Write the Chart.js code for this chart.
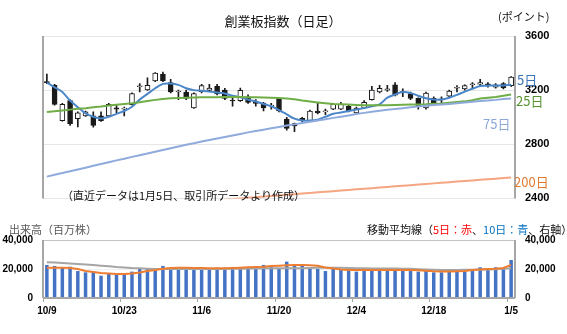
<!DOCTYPE html>
<html lang="ja">
<head>
<meta charset="utf-8">
<script src="https://cdn.jsdelivr.net/npm/chart.js@4.4.1/dist/chart.umd.min.js"></script>
<style>
  html, body { margin: 0; padding: 0; background: #fff; }
  #wrap { position: relative; width: 567px; height: 334px; overflow: hidden; }
  canvas { position: absolute; left: 0; }
  .t { position: absolute; white-space: nowrap; line-height: 1; font-family: "Noto Sans CJK JP", sans-serif; color: #111; }
</style>
</head>
<body>
<div id="wrap">
  <canvas id="price" width="567" height="215" style="top:0"></canvas>
  <canvas id="vol" width="567" height="119" style="top:215px"></canvas>

  <div class="t" style="left:283px; top:14px; font-size:13px; transform:translateX(-50%)">創業板指数（日足）</div>
  <div class="t" style="left:498px; top:11px; font-size:11px">(ポイント)</div>
  <div class="t" style="left:517px; top:73px; font-size:13px; color:#3a74b6">5日</div>
  <div class="t" style="left:516px; top:94px; font-size:13px; color:#569232">25日</div>
  <div class="t" style="left:483px; top:117px; font-size:13px; color:#8ca7d8">75日</div>
  <div class="t" style="left:514px; top:175px; font-size:13px; color:#df7a35">200日</div>
  <div class="t" style="left:62px; top:190px; font-size:11px">（直近データは1月5日、取引所データより作成）</div>
  <div class="t" style="left:9px; top:224px; font-size:11px; color:#595959">出来高（百万株）</div>
  <div class="t" style="left:367px; top:224px; font-size:11px">移動平均線（<span style="color:#ff0000">5日：赤</span>、<span style="color:#0070c0">10日：青</span>、右軸）</div>
</div>
<script>
// trading days shown on the axis (every 10th label is printed)
const dates = [
  '10/9', '10/12', '10/13', '10/14', '10/15', '10/16', '10/19', '10/20', '10/21', '10/22',
  '10/23', '10/26', '10/27', '10/28', '10/29', '10/30', '11/2', '11/3', '11/4', '11/5',
  '11/6', '11/9', '11/10', '11/11', '11/12', '11/13', '11/16', '11/17', '11/18', '11/19',
  '11/20', '11/23', '11/24', '11/25', '11/26', '11/27', '11/30', '12/1', '12/2', '12/3',
  '12/4', '12/7', '12/8', '12/9', '12/10', '12/11', '12/14', '12/15', '12/16', '12/17',
  '12/18', '12/21', '12/22', '12/23', '12/24', '12/25', '12/28', '12/29', '12/30', '1/4',
  '1/5'
];

// daily candles (points)
const openP = [3262, 3235, 2975, 3123, 2990, 3010, 3010, 3010, 3010, 3070,
  3060, 3092, 3225, 3202, 3268, 3319, 3256, 3186, 3186, 3069,
  3186, 3198, 3228, 3200, 3125, 3123, 3151, 3105, 3102, 3081,
  3139, 2987, 2952, 2992, 2975, 3046, 3039, 3060, 3060, 3081,
  3032, 3067, 3130, 3186, 3200, 3240, 3190, 3174, 3139, 3069,
  3139, 3135, 3156, 3214, 3209, 3240, 3244, 3242, 3221, 3249, 3233];
const highP = [3319, 3242, 3102, 3130, 3039, 3045, 3039, 3039, 3102, 3095,
  3074, 3180, 3249, 3291, 3330, 3333, 3280, 3200, 3200, 3180,
  3242, 3242, 3242, 3214, 3139, 3216, 3165, 3130, 3109, 3102,
  3144, 2999, 2957, 2999, 3053, 3102, 3060, 3102, 3109, 3088,
  3074, 3123, 3228, 3235, 3235, 3256, 3210, 3186, 3144, 3186,
  3151, 3151, 3200, 3233, 3240, 3256, 3280, 3256, 3249, 3256, 3300];
const lowP = [3248, 3088, 2970, 2940, 2928, 3005, 2926, 2968, 3008, 3032,
  3010, 3090, 3186, 3198, 3262, 3262, 3180, 3130, 3130, 3065,
  3180, 3195, 3165, 3130, 3081, 3116, 3102, 3081, 3046, 3060,
  3039, 2905, 2893, 2964, 2970, 3025, 3018, 3055, 3055, 3039,
  3025, 3063, 3125, 3179, 3190, 3158, 3151, 3130, 3060, 3060,
  3090, 3100, 3151, 3186, 3200, 3209, 3233, 3221, 3214, 3209, 3228];
const closeP = [3255, 3095, 3095, 2952, 3032, 3040, 2940, 2975, 3095, 3060,
  3067, 3174, 3232, 3235, 3326, 3268, 3186, 3190, 3139, 3174,
  3233, 3216, 3172, 3139, 3120, 3198, 3109, 3102, 3069, 3090,
  3046, 2917, 2935, 2975, 3046, 3032, 3046, 3095, 3095, 3046,
  3067, 3109, 3200, 3214, 3210, 3163, 3182, 3139, 3081, 3179,
  3100, 3128, 3193, 3221, 3233, 3244, 3256, 3240, 3240, 3216, 3296];

// moving averages
const ma5 = [3256, 3221, 3186, 3123, 3074, 3028, 3003, 2991, 3003, 3025,
  3046, 3077, 3130, 3172, 3214, 3246, 3249, 3239, 3214, 3200,
  3196, 3189, 3182, 3175, 3158, 3147, 3130, 3116, 3098, 3081,
  3053, 3021, 2989, 2975, 2975, 2982, 3003, 3025, 3035, 3046,
  3056, 3067, 3081, 3095, 3144, 3168, 3186, 3179, 3158, 3140,
  3130, 3130, 3144, 3165, 3189, 3210, 3231, 3233, 3235, 3235, 3239];
const ma25 = [3038, 3044, 3050, 3056, 3062, 3067, 3074, 3079, 3086, 3092,
  3098, 3103, 3110, 3119, 3128, 3135, 3140, 3141, 3143, 3145,
  3147, 3147, 3148, 3149, 3149, 3149, 3148, 3147, 3146, 3144,
  3142, 3138, 3132, 3123, 3116, 3109, 3103, 3098, 3095, 3093,
  3091, 3089, 3088, 3088, 3089, 3090, 3092, 3093, 3094, 3096,
  3100, 3102, 3107, 3112, 3117, 3126, 3138, 3144, 3150, 3159, 3167];
const ma75 = [2561, 2575, 2587, 2601, 2614, 2627, 2641, 2654, 2667, 2681,
  2693, 2707, 2719, 2732, 2745, 2758, 2771, 2783, 2796, 2808,
  2820, 2832, 2843, 2854, 2865, 2876, 2888, 2898, 2908, 2918,
  2928, 2938, 2947, 2957, 2966, 2976, 2985, 2995, 3004, 3013,
  3023, 3032, 3041, 3048, 3055, 3060, 3067, 3073, 3079, 3085,
  3090, 3094, 3098, 3103, 3108, 3114, 3119, 3124, 3128, 3134, 3139];
const ma200 = [2290, 2294, 2299, 2303, 2308, 2312, 2316, 2321, 2325, 2330,
  2334, 2339, 2343, 2347, 2352, 2356, 2361, 2365, 2369, 2374,
  2378, 2383, 2387, 2392, 2396, 2400, 2405, 2409, 2414, 2418,
  2422, 2427, 2431, 2436, 2440, 2445, 2449, 2453, 2458, 2462,
  2467, 2471, 2475, 2480, 2484, 2489, 2493, 2498, 2502, 2506,
  2511, 2515, 2520, 2524, 2528, 2533, 2537, 2542, 2546, 2551, 2555];

// volume (million shares) and its moving averages
const volume = [22800, 22100, 21200, 21600, 18600, 17700, 18200, 15400, 17000, 16300,
  16300, 18200, 20500, 20000, 19300, 22100, 20500, 20000, 19300, 19300,
  20000, 19300, 20900, 20900, 20000, 20500, 20500, 21600, 22800, 21600,
  20000, 25100, 22100, 23200, 20500, 20000, 18600, 20500, 19300, 19300,
  18200, 19300, 20000, 20000, 19300, 20000, 20000, 18600, 18200, 18600,
  17700, 17700, 18200, 18200, 18200, 18600, 21200, 19300, 21200, 20500, 26200];
const volMa5 = [20900, 20900, 20900, 20700, 20000, 18600, 17900, 17300, 16900, 16600,
  16600, 16900, 17600, 18600, 19300, 20200, 20700, 20900, 20900, 20700,
  20700, 20500, 20500, 20500, 20700, 20900, 21200, 21400, 21600, 22100,
  22300, 22600, 22800, 22800, 22600, 22300, 21100, 20400, 19700, 19300,
  19300, 19300, 19300, 19300, 19300, 19300, 19300, 19300, 19100, 18800,
  18400, 18200, 18200, 18400, 18600, 19300, 19700, 20000, 20200, 20700, 22800];
const volMa10 = [24600, 24500, 24200, 23800, 23500, 23100, 22800, 22300, 21900, 21400,
  21100, 20700, 20500, 20200, 20000, 20000, 20000, 20000, 20000, 20000,
  20000, 20000, 20000, 20000, 20200, 20200, 20400, 20400, 20500, 20500,
  20500, 20500, 20500, 20600, 20700, 20800, 20900, 20900, 20900, 20700,
  20500, 20500, 20400, 20400, 20300, 20300, 20200, 20100, 19900, 19700,
  19500, 19300, 19300, 19300, 19400, 19500, 19600, 19700, 19900, 20100, 20500];

const priceTicks = [2400, 2800, 3200, 3600];
const volTicks = [0, 20000, 40000];

const NUM_FONT = '"Liberation Sans", Arial, sans-serif';
const FRAME = '#a6a6a6';

// draws the grey frame lines round the plot area
const frameLines = {
    id: 'frameLines',
    afterDraw(chart, args, opts) {
        const { ctx, chartArea: a } = chart;
        ctx.save();
        ctx.strokeStyle = opts.color;
        ctx.lineWidth = opts.width;
        ctx.beginPath();
        opts.sides.forEach((s) => {
            if (s === 'left') { ctx.moveTo(a.left, a.top); ctx.lineTo(a.left, a.bottom); }
            if (s === 'right') { ctx.moveTo(a.right, a.top); ctx.lineTo(a.right, a.bottom); }
            if (s === 'bottom') { ctx.moveTo(a.left, a.bottom); ctx.lineTo(a.right, a.bottom); }
        });
        ctx.stroke();
        ctx.restore();
    },
};

function maLine(label, data, color, order, tension) {
    return {
        type: 'line', label, data, order,
        borderColor: color, borderWidth: 2,
        pointRadius: 0, tension: tension || 0, fill: false,
    };
}

const upOrDown = (ctx) => (closeP[ctx.dataIndex] >= openP[ctx.dataIndex] ? '#ffffff' : '#1a1a1a');

new Chart(document.getElementById('price'), {
    type: 'bar',
    data: {
        labels: dates,
        datasets: [
            maLine('200日', ma200, '#f4a582', 0),
            maLine('75日', ma75, '#8faadc', 0),
            maLine('25日', ma25, '#70ad47', 0),
            maLine('5日', ma5, '#4a86c8', 0, 0.3),
            {
                label: 'body', order: 1, grouped: false,
                data: openP.map((o, i) => [o, closeP[i]]),
                backgroundColor: upOrDown, borderColor: '#1a1a1a', borderWidth: 1,
                borderSkipped: false, barThickness: 5, minBarLength: 1,
            },
            {
                label: 'wick', order: 2, grouped: false,
                data: lowP.map((l, i) => [l, highP[i]]),
                backgroundColor: '#1a1a1a', borderWidth: 0, barThickness: 1,
            },
        ],
    },
    options: {
        responsive: false,
        animation: false,
        layout: { padding: { left: 43, top: 36, right: 0, bottom: 8 } },
        plugins: {
            legend: { display: false },
            tooltip: { enabled: false },
            frameLines: { color: FRAME, width: 2, sides: ['left', 'right'] },
        },
        scales: {
            x: { display: false, offset: true },
            y: {
                position: 'right',
                min: priceTicks[0],
                max: priceTicks[priceTicks.length - 1],
                afterFit: (s) => { s.width = 52; },
                afterBuildTicks: (s) => { s.ticks = priceTicks.map((v) => ({ value: v })); },
                grid: { color: '#e6e6e6', drawTicks: false },
                border: { display: false },
                ticks: {
                    padding: 10, color: '#000',
                    font: { family: NUM_FONT, size: 11, weight: 'bold' },
                    callback: (v) => String(v),
                },
            },
        },
    },
    plugins: [frameLines],
});

const volTickStyle = {
    padding: 10, color: '#000',
    font: { family: NUM_FONT, size: 10, weight: 'bold' },
    callback: (v) => v.toLocaleString('en-US'),
};

new Chart(document.getElementById('vol'), {
    type: 'bar',
    data: {
        labels: dates,
        datasets: [
            { ...maLine('5日', volMa5, '#ed7d31', 0), yAxisID: 'y2' },
            { ...maLine('10日', volMa10, '#a5a5a5', 1), yAxisID: 'y2' },
            {
                label: '出来高', data: volume, order: 2, yAxisID: 'y',
                backgroundColor: '#4472c4', barPercentage: 0.45, categoryPercentage: 1,
            },
        ],
    },
    options: {
        responsive: false,
        animation: false,
        layout: { padding: { left: 0, top: 25, right: 0, bottom: 16 } },
        plugins: {
            legend: { display: false },
            tooltip: { enabled: false },
            frameLines: { color: FRAME, width: 2, sides: ['left', 'right', 'bottom'] },
        },
        scales: {
            x: {
                afterFit: (s) => { s.height = 20; },
                grid: {
                    offset: true, drawOnChartArea: false, drawTicks: true, tickLength: 4,
                    color: (ctx) => (ctx.index % 10 === 0 ? FRAME : 'rgba(0,0,0,0)'),
                },
                border: { display: false },
                ticks: {
                    autoSkip: false, maxRotation: 0, padding: 3, color: '#000',
                    font: { family: NUM_FONT, size: 10, weight: 'bold' },
                    callback: (v, i) => (i % 10 === 0 ? dates[i] : ''),
                },
            },
            y: {
                position: 'left',
                min: volTicks[0], max: volTicks[volTicks.length - 1],
                afterFit: (s) => { s.width = 43; },
                afterBuildTicks: (s) => { s.ticks = volTicks.map((v) => ({ value: v })); },
                grid: {
                    drawTicks: false,
                    color: (ctx) => (ctx.tick && ctx.tick.value === 40000 ? '#c4c4c4' : '#efefef'),
                },
                border: { display: false },
                ticks: volTickStyle,
            },
            y2: {
                position: 'right',
                min: volTicks[0], max: volTicks[volTicks.length - 1],
                afterFit: (s) => { s.width = 52; },
                afterBuildTicks: (s) => { s.ticks = volTicks.map((v) => ({ value: v })); },
                grid: { display: false, drawTicks: false },
                border: { display: false },
                ticks: volTickStyle,
            },
        },
    },
    plugins: [frameLines],
});
</script>
</body>
</html>
